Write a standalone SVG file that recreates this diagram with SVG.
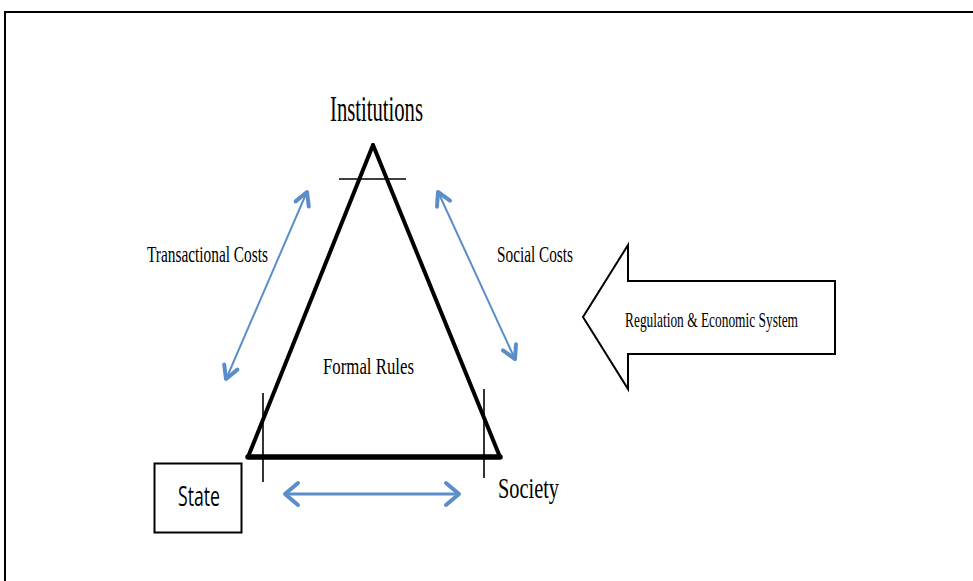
<svg xmlns="http://www.w3.org/2000/svg" width="973" height="581" viewBox="0 0 973 581">
  <style>
    .serif { font-family: "Liberation Serif", "Times New Roman", serif; fill: #000; }
    .sans { font-family: "Open Sans", "Liberation Sans", sans-serif; fill: #000; }
    .blue { stroke: #5b8ec9; fill: none; stroke-linecap: round; stroke-linejoin: round; }
    .shaft { stroke-width: 2; }
    .head { stroke-width: 4; }
    .thin { stroke: #000; stroke-width: 1.6; fill: none; }
  </style>
  <rect width="973" height="581" fill="#fff"/>
  <!-- page frame -->
  <rect x="5" y="12" width="1000" height="620" fill="none" stroke="#000" stroke-width="2"/>

  <!-- institutional triangle -->
  <g id="triangle">
    <path d="M373 145 L248 457" stroke="#000" stroke-width="4" fill="none" stroke-linecap="round"/>
    <path d="M373 145 L500 457" stroke="#000" stroke-width="4" fill="none" stroke-linecap="round"/>
    <path d="M248 457 L500 457" stroke="#000" stroke-width="5.5" fill="none" stroke-linecap="round"/>
    <line class="thin" x1="339" y1="179" x2="406" y2="179"/>
    <line class="thin" x1="263" y1="393" x2="263" y2="482"/>
    <line class="thin" x1="484" y1="389" x2="484" y2="478"/>
    <text class="serif" x="323" y="374" font-size="23.5" textLength="91" lengthAdjust="spacingAndGlyphs">Formal Rules</text>
  </g>

  <g id="institutions">
    <text class="serif" x="330" y="121" font-size="35" textLength="93" lengthAdjust="spacingAndGlyphs">Institutions</text>
  </g>

  <g id="state">
    <rect x="154.5" y="463.5" width="87" height="69" fill="#fff" stroke="#000" stroke-width="2"/>
    <text class="sans" x="178" y="506" font-size="27" textLength="42" lengthAdjust="spacingAndGlyphs">State</text>
  </g>

  <g id="society">
    <text class="serif" x="498" y="498" font-size="30" textLength="61" lengthAdjust="spacingAndGlyphs">Society</text>
  </g>

  <g id="regulation">
    <path d="M583 317 L628 245 L628 281 L835 281 L835 354 L628 354 L628 389 Z" fill="#fff" stroke="#000" stroke-width="2" stroke-linejoin="miter"/>
    <text class="serif" x="625" y="327" font-size="22" textLength="173" lengthAdjust="spacingAndGlyphs">Regulation &amp; Economic System</text>
  </g>

  <!-- connectors -->
  <g id="connectors">
    <!-- transactional costs: state <-> institutions -->
    <line class="blue shaft" x1="227" y1="377" x2="306" y2="194"/>
    <path class="blue head" d="M295.6 201.4 L307 192 L308.8 206.5"/>
    <path class="blue head" d="M224.2 364.5 L226 379 L237.4 369.6"/>
    <text class="serif" x="147" y="262" font-size="23.5" textLength="121" lengthAdjust="spacingAndGlyphs">Transactional Costs</text>

    <!-- social costs: institutions <-> society -->
    <line class="blue shaft" x1="439" y1="194" x2="514" y2="357"/>
    <path class="blue head" d="M437 206.7 L438 192 L450 200.6"/>
    <path class="blue head" d="M503 350.4 L515 359 L516 344.3"/>
    <text class="serif" x="497" y="262" font-size="23.5" textLength="76" lengthAdjust="spacingAndGlyphs">Social Costs</text>

    <!-- state <-> society -->
    <line class="blue" stroke-width="3" x1="286" y1="494" x2="458" y2="494"/>
    <path class="blue head" d="M298 483 L285 494 L298 505"/>
    <path class="blue head" d="M446 483 L459 494 L446 505"/>
  </g>
</svg>
